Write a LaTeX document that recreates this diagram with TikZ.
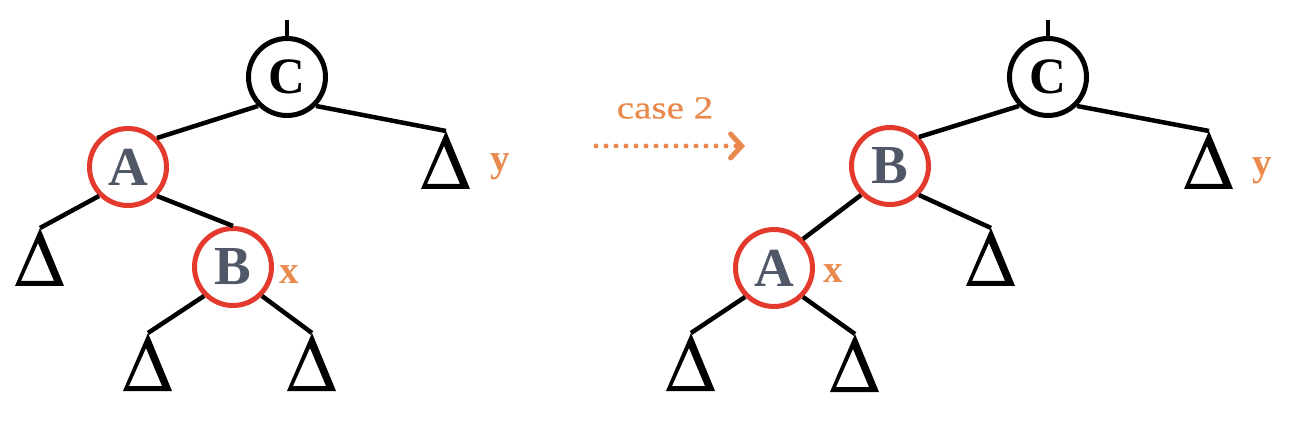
\documentclass[tikz,border=0pt]{standalone}
\usepackage{fontspec}
\setmainfont{Liberation Serif}
\newfontfamily\casefont[FakeStretch=1.22,FakeBold=0.5]{Liberation Serif}
\usetikzlibrary{arrows.meta}
\definecolor{rbred}{RGB}{228,57,45}
\definecolor{rborange}{RGB}{233,137,77}
\definecolor{rbgray}{RGB}{80,88,104}
\tikzset{
  rbnode/.style={circle,draw=rbred,line width=5pt,fill=white,minimum size=77pt,inner sep=0pt,
    font=\fontsize{55}{55}\selectfont\bfseries,text=rbgray},
  blknode/.style={rbnode,draw=black,text=black,font=\fontsize{51}{51}\selectfont\bfseries},
  edge/.style={line width=4.5pt,black},
  lbl/.style={text=rborange,font=\fontsize{39}{39}\selectfont\bfseries,inner sep=0pt},
  subtree/.pic={\fill[black,even odd rule] (0,0) -- (-25,58) -- (24,58) -- cycle
      (-2,15) -- (-19,53) -- (14,53) -- cycle;},
  casearrow/.style={rborange,line width=5pt,line cap=round,dash pattern=on 0pt off 10pt,
    -{Straight Barb[length=11pt,width=24pt,line width=5pt,line cap=round]}}
}
\begin{document}
\begin{tikzpicture}[x=1pt,y=-1pt]
\useasboundingbox (0,0) rectangle (1290,430);
% ---------- left tree ----------
\node[blknode] (C1) at (287,77) {C};
\node[rbnode] (A1) at (128,167) {A};
\node[rbnode] (B1) at (233,267) {B};
\coordinate (s1) at (287,20);
\coordinate (t1) at (40,228);
\coordinate (t2) at (148,333);
\coordinate (t3) at (312,333);
\coordinate (t4) at (446,131);
\foreach \t in {t1,t2,t3,t4} {\pic at (\t) {subtree};}
\draw[edge] (s1) -- (C1.north);
\draw[edge] (C1.south west) -- (A1.north east);
\draw[edge] (C1.south east) -- (t4);
\draw[edge] (A1.south west) -- (t1);
\draw[edge] (A1.south east) -- (B1.north);
\draw[edge] (B1.south west) -- (t2);
\draw[edge] (B1.south east) -- (t3);
\node[lbl] (x1) at (289,275) {x};
\node[lbl] (y1) at (500,167) {y};
% ---------- arrow ----------
\node[text=rborange,font=\casefont\fontsize{32}{32}\selectfont,inner sep=0pt] (case) at (665,108) {case 2};
\coordinate (a0) at (596,146);
\coordinate (a1) at (745,146);
\draw[casearrow] (a0) -- (a1);
% ---------- right tree ----------
\node[blknode] (C2) at (1048,77) {C};
\node[rbnode] (B2) at (890,166) {B};
\node[rbnode] (A2) at (774,268) {A};
\coordinate (s2) at (1048,20);
\coordinate (u1) at (691,333);
\coordinate (u2) at (855,334);
\coordinate (u3) at (991,228);
\coordinate (u4) at (1209,131);
\foreach \t in {u1,u2,u3,u4} {\pic at (\t) {subtree};}
\draw[edge] (s2) -- (C2.north);
\draw[edge] (C2.south west) -- (B2.north east);
\draw[edge] (C2.south east) -- (u4);
\draw[edge] (B2.south west) -- (A2.north east);
\draw[edge] (B2.south east) -- (u3);
\draw[edge] (A2.south west) -- (u1);
\draw[edge] (A2.south east) -- (u2);
\node[lbl] (x2) at (833,274) {x};
\node[lbl] (y2) at (1262,171) {y};
\end{tikzpicture}
\end{document}
